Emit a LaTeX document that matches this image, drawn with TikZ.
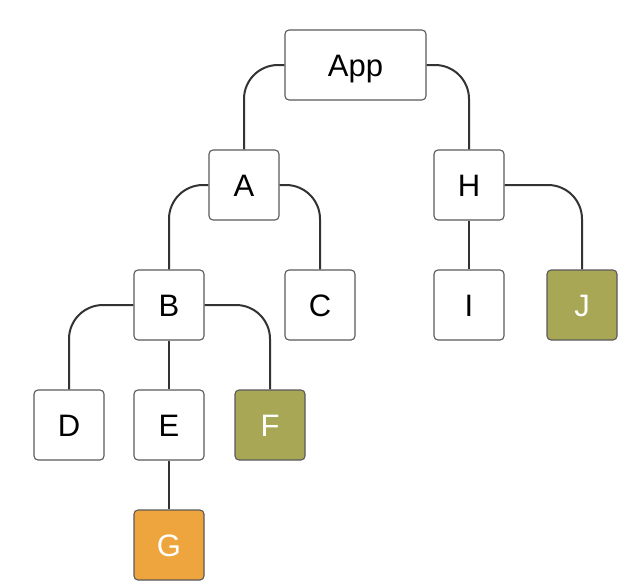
\documentclass[tikz,border=0pt]{standalone}
\usepackage{fontspec}
\setmainfont{Liberation Sans}
\definecolor{boxline}{HTML}{5A5A5A}
\definecolor{wire}{HTML}{333333}
\definecolor{olive}{HTML}{A8A755}
\definecolor{amber}{HTML}{EEA53D}
\begin{document}
\begin{tikzpicture}[x=1pt, y=-1pt]
            \tikzstyle{every node}=[rectangle, rounded corners=4pt, fill=white, draw=boxline, line width=1.1pt, inner sep=0pt, minimum width=70pt, minimum height=70pt, font=\fontsize{31}{36}\selectfont, text height=22.5pt, text depth=0pt, text=black]
            \tikzstyle{edge}=[wire, line width=2pt, rounded corners=34pt]
            \useasboundingbox (0,0) rectangle (627,582);

            \node[minimum width=141pt] (app) at (355.5,65) {App};
            \node (a) at (244,185) {A};
            \node (h) at (469,185) {H};
            \node (b) at (169,305) {B};
            \node (c) at (320,305) {C};
            \node (i) at (469,305) {I};
            \node (d) at (69,425) {D};
            \node (e) at (169,425) {E};

            % highlighted leaves
            \tikzstyle{every node}+=[text=white]
            \node[fill=olive] (j) at (582,305) {J};
            \node[fill=olive] (f) at (270,425) {F};
            \node[fill=amber] (g) at (169,545) {G};

            \draw[edge] (app.west) -| (a.north);
            \draw[edge] (app.east) -| (h.north);
            \draw[edge] (a.west) -| (b.north);
            \draw[edge] (a.east) -| (c.north);
            \draw[edge] (h.south) -- (i.north);
            \draw[edge] (h.east) -| (j.north);
            \draw[edge] (b.west) -| (d.north);
            \draw[edge] (b.south) -- (e.north);
            \draw[edge] (b.east) -| (f.north);
            \draw[edge] (e.south) -- (g.north);
\end{tikzpicture}
\end{document}
